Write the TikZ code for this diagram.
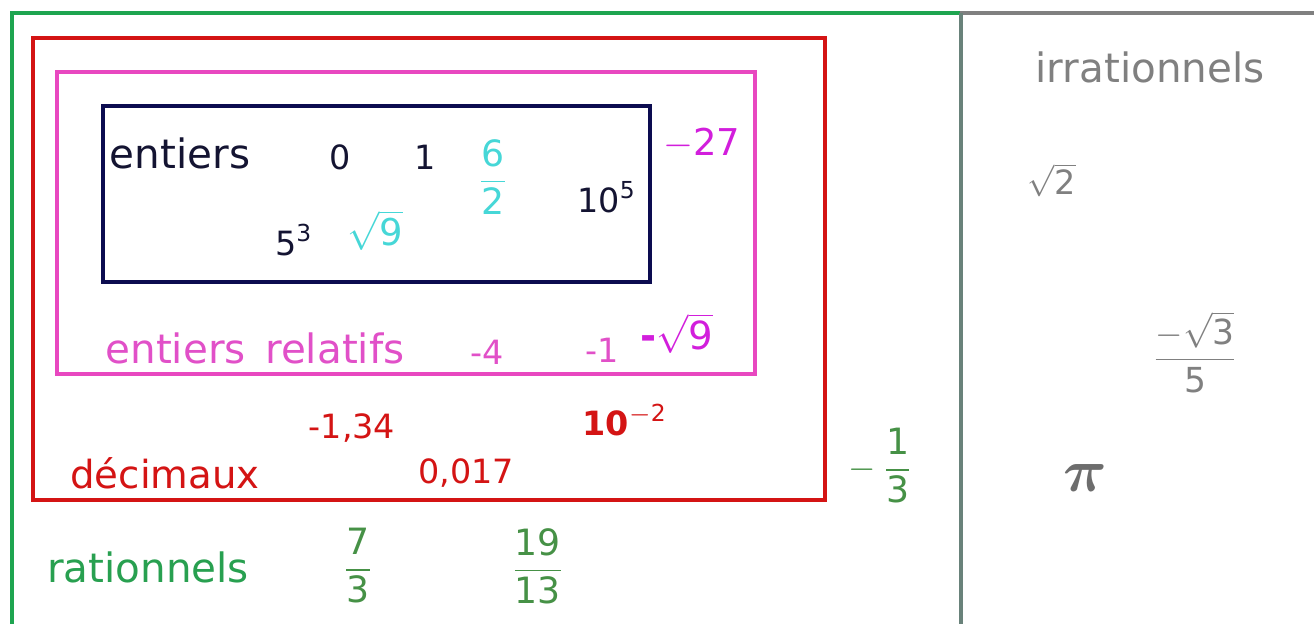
\documentclass[tikz,border=0pt]{standalone}
\usepackage{amsmath}
\usepackage{fontspec}
\setmainfont{DejaVu Sans}
\definecolor{cgreen}{RGB}{30,165,80}
\definecolor{cgreentxt}{RGB}{40,160,80}
\definecolor{cfrac}{RGB}{70,145,70}
\definecolor{cred}{RGB}{212,20,20}
\definecolor{cpinkbox}{RGB}{232,72,192}
\definecolor{cpink}{RGB}{225,80,200}
\definecolor{cmag}{RGB}{210,30,220}
\definecolor{cnavy}{RGB}{12,12,80}
\definecolor{cnavytxt}{RGB}{20,20,50}
\definecolor{ccyan}{RGB}{70,215,215}
\definecolor{cgray}{RGB}{128,128,128}
\definecolor{cgrayline}{RGB}{105,130,122}
\newcommand{\myfr}[2]{$\dfrac{\text{#1}}{\text{#2}}$}
\begin{document}
\begin{tikzpicture}[x=0.01cm,y=-0.01cm,
  boxline/.style={line width=1.4pt},
  lab/.style={inner sep=0pt,font=\fontsize{11.5}{13}\selectfont},
  num/.style={inner sep=0pt,font=\fontsize{9.5}{11}\selectfont},
  fracn/.style={inner sep=0pt,font=\fontsize{10.3}{12}\selectfont},
  big/.style={inner sep=0pt,font=\fontsize{11}{13}\selectfont}]
\useasboundingbox (0,0) rectangle (1314,624);
\fill[white] (0,0) rectangle (1314,624);
% outer lines
\draw[boxline,cgreen] (960,13) -- (12,13) -- (12,624);
\draw[boxline,cgray] (960,13) -- (1314,13);
\draw[boxline,cgrayline] (961,13) -- (961,624);
% boxes
\draw[boxline,cred] (33,38) rectangle (825,500);
\draw[boxline,cpinkbox] (57,72) rectangle (755,374);
\draw[boxline,cnavy] (103,106) rectangle (650,282);
% entiers
\node[lab,text=cnavytxt] (ent) at (180,153) {entiers};
\node[num,text=cnavytxt] (n0) at (340,157) {0};
\node[num,text=cnavytxt] (n1) at (425,157) {1};
\node[fracn,text=ccyan] (f62) at (493,177) {\myfr{6}{2}};
\node[num,text=cnavytxt] (p105) at (607,197) {10\textsuperscript{5}};
\node[num,text=cnavytxt] (p53) at (294,240) {5\textsuperscript{3}};
\node[inner sep=0pt,font=\fontsize{10.5}{12}\selectfont,text=ccyan] (s9) at (375,230) {$\sqrt{\text{9}}$};
% entiers relatifs
\node[inner sep=0pt,font=\fontsize{10.5}{12}\selectfont,text=cmag] (m27) at (702,143) {$-$27};
\node[lab,text=cpink] (rel) at (255,348) {entiers\, relatifs};
\node[num,text=cpink] (m4) at (487,352) {-4};
\node[num,text=cpink] (m1) at (602,350) {-1};
\node[big,text=cmag] (ms9) at (677,333) {\textbf{-}$\sqrt{\text{9}}$};
% decimaux
\node[num,text=cred] (d134) at (352,428) {-1,34};
\node[num,text=cred] (d102) at (625,420) {\textbf{10}\textsuperscript{$-$2}};
\node[lab,text=cred,font=\fontsize{11}{13}\selectfont] (dec) at (165,473) {décimaux};
\node[num,text=cred] (d017) at (466,473) {0,017};
% rationnels
\node[fracn,text=cfrac] (q13) at (881,466) {$-$\,\myfr{1}{3}};
\node[lab,text=cgreentxt] (rat) at (148,567) {rationnels};
\node[fracn,text=cfrac] (q73) at (358,566) {\myfr{7}{3}};
\node[fracn,text=cfrac] (q1913) at (538,566) {\myfr{19}{13}};
% irrationnels
\node[lab,text=cgray] (irr) at (1150,67) {irrationnels};
\node[num,text=cgray] (i2) at (1052,180) {$\sqrt{\text{2}}$};
\node[inner sep=0pt,font=\fontsize{9.8}{12}\selectfont,text=cgray] (i35) at (1195,352) {\myfr{$-\sqrt{\text{3}}$}{5}};
\node[inner sep=0pt,text=cgray!85!black,font=\fontsize{16}{18}\selectfont] (ipi) at (1085,478) {$\boldsymbol{\pi}$};
\end{tikzpicture}
\end{document}
